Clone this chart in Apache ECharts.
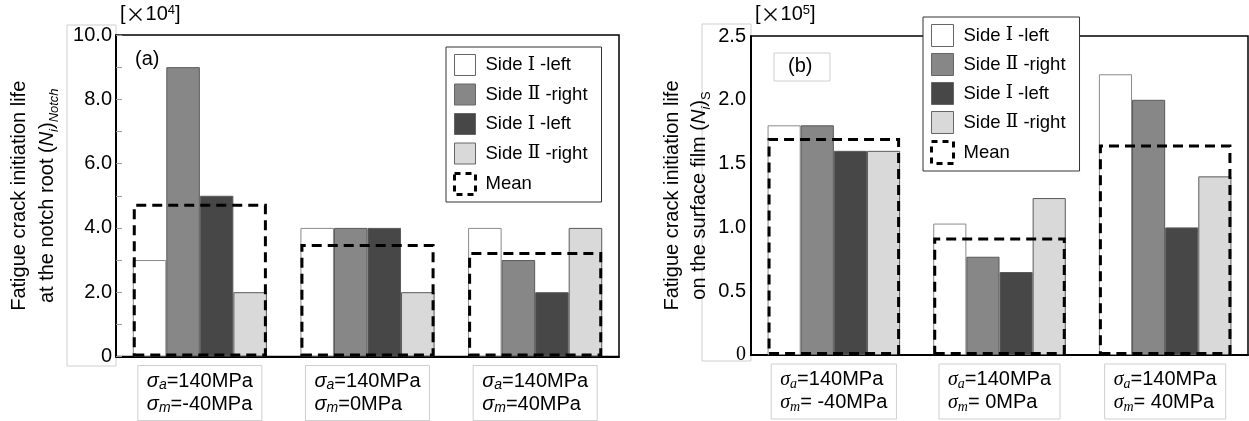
<!DOCTYPE html>
<html>
<head>
<meta charset="utf-8">
<script src="https://cdn.jsdelivr.net/npm/echarts@6/dist/echarts.min.js"></script>
<style>html,body{margin:0;padding:0;background:#fff;}#c{width:1249px;height:421px;}</style>
</head>
<body>
<div id="c"></div>
<script>
// ---- data ----
const categoriesA = ['σa=140MPa\nσm=-40MPa', 'σa=140MPa\nσm=0MPa', 'σa=140MPa\nσm=40MPa'];
const categoriesB = ['σa=140MPa\nσm= -40MPa', 'σa=140MPa\nσm= 0MPa', 'σa=140MPa\nσm= 40MPa'];
const seriesKeys = ['s1L', 's2R', 's3L', 's4R', 'mean'];
const legendLabels = ['Side {r|Ⅰ} -left', 'Side {r|Ⅱ} -right', 'Side {r|Ⅰ} -left', 'Side {r|Ⅱ} -right', 'Mean'];
// (a) notch root, ×10^4
const notchSide1Left  = [3.0, 4.0, 4.0];
const notchSide2Right = [9.0, 4.0, 3.0];
const notchSide1Left2 = [5.0, 4.0, 2.0];
const notchSide2Right2= [2.0, 2.0, 4.0];
const notchMean       = [4.75, 3.5, 3.25];
// (b) surface film, ×10^5
const filmSide1Left   = [1.80, 1.03, 2.20];
const filmSide2Right  = [1.80, 0.77, 2.00];
const filmSide1Left2  = [1.60, 0.65, 1.00];
const filmSide2Right2 = [1.60, 1.23, 1.40];
const filmMean        = [1.70, 0.92, 1.65];
const yTicksA = [0, 2, 4, 6, 8, 10];
const yTicksB = [0, 0.5, 1.0, 1.5, 2.0, 2.5];

// ---- styles ----
const fills = ['#ffffff', '#878787', '#474747', '#d9d9d9'];
const FONT = 'Liberation Sans, Arial, sans-serif';
const chart = echarts.init(document.getElementById('c'));

function catFormatter(v) {
  return v.split('\n').map(line => line.replace(/^σ([am])(.*)$/, '{s|σ}{sub|$1}{t|$2}')).join('\n');
}
function xAxisCfg(grid, data, serif) {
  return {
    gridIndex: grid, type: 'category', data: data,
    axisTick: { show: false },
    axisLine: { lineStyle: { color: '#000', width: 2 } },
    axisLabel: {
      interval: 0, hideOverlap: false,
      formatter: catFormatter, color: '#000', fontSize: 20, lineHeight: 23, margin: 9,
      borderColor: '#cfcfcf', borderWidth: 1, padding: [4, 9, 5, 9],
      rich: {
        s: { fontStyle: 'italic', fontSize: 20, lineHeight: 23, align: 'left', fontFamily: serif ? 'Liberation Serif' : FONT },
        sub: { fontStyle: 'italic', fontSize: 14, lineHeight: 16, verticalAlign: 'bottom', align: 'left', fontFamily: serif ? 'Liberation Serif' : FONT },
        t: { fontSize: 20, lineHeight: 23, align: 'left', fontFamily: FONT }
      }
    }
  };
}
function hiddenX(grid, data) {
  return { gridIndex: grid, type: 'category', data: data, show: false };
}
const nameRich = {
  i: { fontStyle: 'italic', fontSize: 20, fontFamily: FONT },
  sub: { fontStyle: 'italic', fontSize: 13, verticalAlign: 'bottom', lineHeight: 18, fontFamily: FONT },
  subn: { fontSize: 13, verticalAlign: 'bottom', lineHeight: 18, fontFamily: FONT }
};

function sideSeries(xi, yi, keys, arrays) {
  return arrays.map((arr, k) => ({
    name: keys[k], type: 'bar', xAxisIndex: xi, yAxisIndex: yi, data: arr,
    barGap: 0, barCategoryGap: '20%',
    itemStyle: { color: fills[k], borderColor: k === 0 ? '#8a8a8a' : '#5a5a5a', borderWidth: 1 },
    z: 2
  }));
}
function meanSeries(xi, yi, arr) {
  return {
    name: 'mean', type: 'bar', xAxisIndex: xi, yAxisIndex: yi, data: arr,
    barCategoryGap: '20%',
    itemStyle: { color: 'rgba(0,0,0,0)', borderColor: '#000', borderWidth: 3, borderType: [10, 6] },
    z: 5
  };
}
function legendCfg(left, top, size, gap, fs) {
  return {
    left: left, top: top, orient: 'vertical', icon: 'rect',
    itemWidth: size, itemHeight: size, itemGap: gap,
    backgroundColor: '#fff', borderColor: '#333', borderWidth: 1, padding: [7, 14, 6, 7],
    selectedMode: false,
    formatter: name => legendLabels[seriesKeys.indexOf(name)],
    textStyle: { fontSize: fs, color: '#000', fontFamily: FONT, padding: [0, 0, 0, 5],
      rich: { r: { fontSize: fs, fontFamily: 'DejaVu Serif', color: '#000' } } },
    data: seriesKeys.map((k, i) => i < 4
      ? { name: k, itemStyle: { color: fills[i], borderColor: '#666', borderWidth: 1 } }
      : { name: k, itemStyle: { color: 'rgba(0,0,0,0)', borderColor: '#000', borderWidth: 3, borderType: [6, 5] } })
  };
}

const option = {
  animation: false,
  textStyle: { fontFamily: FONT },
  grid: [
    { left: 116, top: 35, width: 503, height: 322, show: true, borderColor: '#000', borderWidth: 1.5 },
    { left: 751, top: 36, width: 497, height: 319, show: true, borderColor: '#000', borderWidth: 1.5 }
  ],
  xAxis: [xAxisCfg(0, categoriesA, false), hiddenX(0, categoriesA), xAxisCfg(1, categoriesB, true), hiddenX(1, categoriesB)],
  yAxis: [
    {
      gridIndex: 0, type: 'value', min: yTicksA[0], max: yTicksA[yTicksA.length - 1], interval: (yTicksA[1] - yTicksA[0]) / 2,
      splitLine: { show: false },
      axisLine: { show: true, lineStyle: { color: '#000', width: 2 } },
      axisTick: { show: true, inside: true, length: 6, lineStyle: { color: '#999' } },
      axisLabel: { fontSize: 20, color: '#000', margin: 4,
        formatter: v => yTicksA.indexOf(v) < 0 ? '' : (v === 0 ? '0' : v.toFixed(1)) },
      name: 'Fatigue crack initiation life\nat the notch root ({i|N}{sub|i}){sub|Notch}',
      nameLocation: 'middle', nameGap: 55, nameRotate: 90,
      nameTextStyle: { fontSize: 20, lineHeight: 28, color: '#000', rich: nameRich }
    },
    {
      gridIndex: 1, type: 'value', min: yTicksB[0], max: yTicksB[yTicksB.length - 1], interval: yTicksB[1] - yTicksB[0],
      splitLine: { show: false },
      axisLine: { show: true, lineStyle: { color: '#000', width: 2 } },
      axisTick: { show: false },
      axisLabel: { fontSize: 20, color: '#000', margin: 5, formatter: v => v === 0 ? '{z|0}' : v.toFixed(1),
        rich: { z: { fontSize: 20, fontFamily: 'Liberation Serif', color: '#000' } } },
      name: 'Fatigue crack initiation life\non the surface film ({i|N}{sub|i}){subn|S}',
      nameLocation: 'middle', nameGap: 38, nameRotate: 90,
      nameTextStyle: { fontSize: 20, lineHeight: 27, color: '#000', rich: nameRich }
    }
  ],
  legend: [legendCfg(446, 47, 21, 7.5, 18.5), legendCfg(923, 17, 22, 6, 18.5)],
  series: [].concat(
    sideSeries(0, 0, seriesKeys, [notchSide1Left, notchSide2Right, notchSide1Left2, notchSide2Right2]),
    [meanSeries(1, 0, notchMean)],
    sideSeries(2, 1, seriesKeys, [filmSide1Left, filmSide2Right, filmSide1Left2, filmSide2Right2]),
    [meanSeries(3, 1, filmMean)]
  ),
  graphic: [
    { type: 'rect', z: 0, shape: { x: 67, y: 25, width: 49, height: 341 }, style: { fill: 'none', stroke: '#cfcfcf', lineWidth: 1 } },
    { type: 'rect', z: 0, shape: { x: 702, y: 24, width: 49, height: 337 }, style: { fill: 'none', stroke: '#cfcfcf', lineWidth: 1 } },
    { type: 'text', z: 10, left: 135, top: 49, style: { text: '(a)', fontSize: 20, fill: '#000', fontFamily: FONT } },
    { type: 'rect', z: 10, shape: { x: 774, y: 53, width: 56, height: 28 }, style: { fill: '#fff', stroke: '#cfcfcf', lineWidth: 1 } },
    { type: 'text', z: 11, left: 788, top: 56, style: { text: '(b)', fontSize: 20, fill: '#000', fontFamily: FONT } },
    { type: 'text', z: 10, left: 120, top: 4, style: { text: '[{x|×}10{p|4}]', fontSize: 20, fill: '#000', fontFamily: FONT,
        rich: { p: { fontSize: 13, verticalAlign: 'top', fontFamily: FONT, fill: '#000' },
                x: { fontSize: 20, fontFamily: 'Noto Sans CJK JP', fill: '#000' } } } },
    { type: 'text', z: 10, left: 755, top: 4, style: { text: '[{x|×}10{p|5}]', fontSize: 20, fill: '#000', fontFamily: FONT,
        rich: { p: { fontSize: 13, verticalAlign: 'top', fontFamily: FONT, fill: '#000' },
                x: { fontSize: 20, fontFamily: 'Noto Sans CJK JP', fill: '#000' } } } }
  ]
};
chart.setOption(option);
</script>
</body>
</html>
